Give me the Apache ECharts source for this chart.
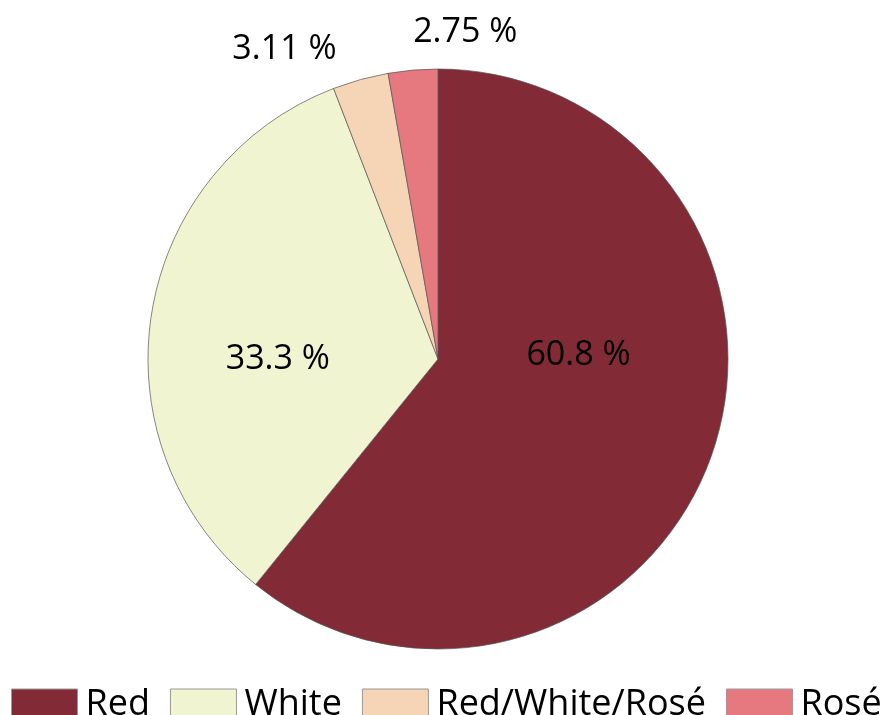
<!DOCTYPE html>
<html><head><meta charset="utf-8">
<script src="https://cdn.jsdelivr.net/npm/echarts@6/dist/echarts.min.js"></script>
<style>html,body{margin:0;padding:0;background:#fff}#c{width:892px;height:715px}</style>
</head><body><div id="c"></div>
<script>
const categories = ['Red', 'White', 'Red/White/Rosé', 'Rosé'];
const values = [60.8, 33.3, 3.11, 2.75];
const colors = ['#822a35', '#f1f4d0', '#f5d5b5', '#e67880'];
const labelOffsets = [[1, -53], [-14, 23], [-114, -167], [40, -179]];

const chart = echarts.init(document.getElementById('c'), null, {renderer: 'canvas'});
chart.setOption({
  animation: false,
  legend: {
    left: 11, top: 687, padding: 0,
    itemWidth: 66, itemHeight: 32, itemGap: 20,
    icon: 'rect',
    itemStyle: {borderColor: '#999', borderWidth: 1},
    textStyle: {fontFamily: 'Open Sans', fontSize: 36, color: '#000', padding: [0, 0, 0, 3]},
    data: categories
  },
  series: [{
    type: 'pie',
    center: [438, 359],
    radius: 290,
    startAngle: 90,
    clockwise: true,
    avoidLabelOverlap: false,
    itemStyle: {borderColor: '#555', borderWidth: 0.7},
    label: {
      position: 'inside',
      formatter: '{c} %',
      fontFamily: 'Open Sans', fontSize: 34, color: '#000'
    },
    labelLine: {show: false},
    emphasis: {disabled: true},
    data: categories.map((n, i) => ({
      name: n, value: values[i],
      itemStyle: {color: colors[i]},
      label: {offset: labelOffsets[i]}
    }))
  }]
});
</script></body></html>
